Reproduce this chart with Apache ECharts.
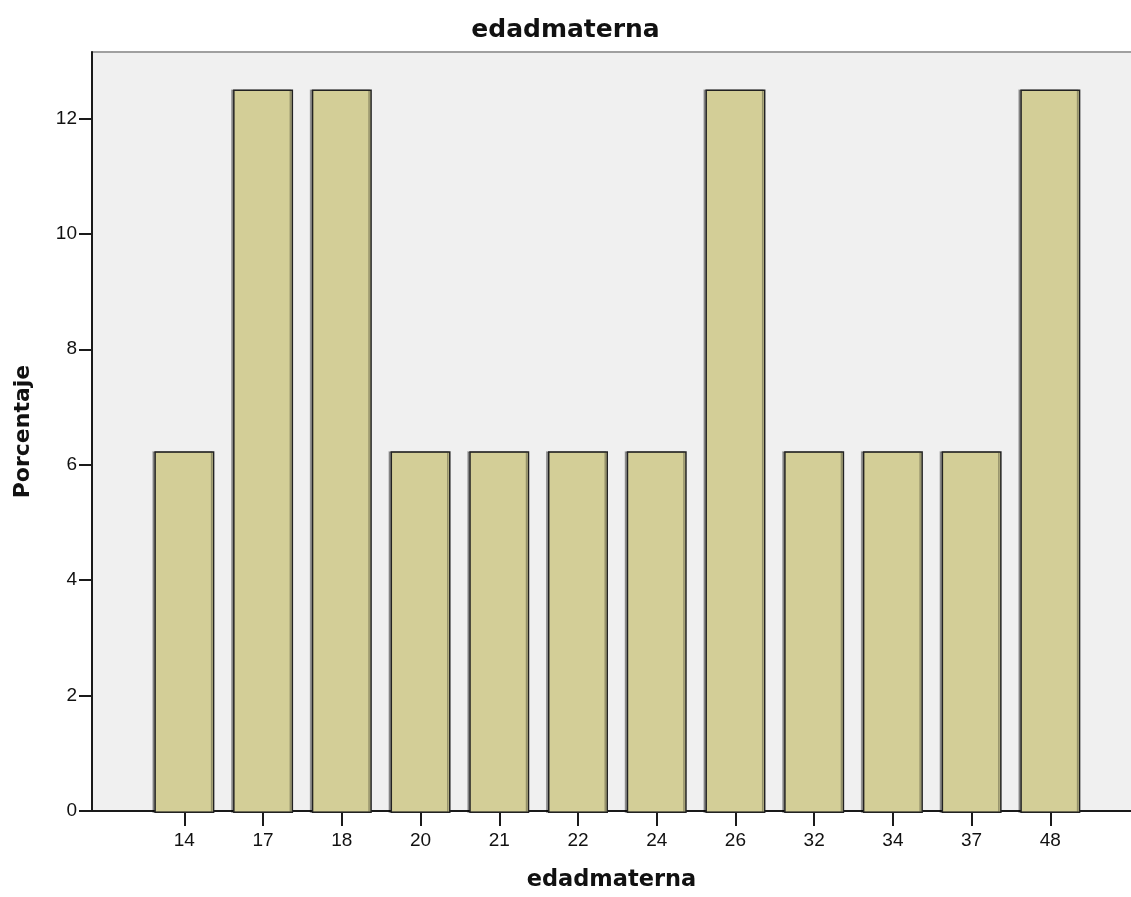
<!DOCTYPE html>
<html>
<head>
<meta charset="utf-8">
<script src="https://cdn.jsdelivr.net/npm/echarts@6/dist/echarts.min.js"></script>
<style>html,body{margin:0;padding:0;background:#fff}#c{width:1131px;height:897px}</style>
</head>
<body>
<div id="c"></div>
<script>
const categories = ['14','17','18','20','21','22','24','26','32','34','37','48'];
const percentages = [6.25, 12.5, 12.5, 6.25, 6.25, 6.25, 6.25, 12.5, 6.25, 6.25, 6.25, 12.5];
const yTicks = [0, 2, 4, 6, 8, 10, 12];
const yMax = 13.15;

const chart = echarts.init(document.getElementById('c'), null, {renderer: 'canvas'});
const axisBlack = '#1a1a1a';
chart.setOption({
  animation: false,
  backgroundColor: '#ffffff',
  title: {
    text: 'edadmaterna', left: 'center', top: 13,
    textStyle: {fontFamily: 'DejaVu Sans', fontWeight: 'bold', fontSize: 25, color: '#111'}
  },
  grid: [
    {left: 92, top: 52, right: 0, bottom: 84, show: true, backgroundColor: '#f0f0f0', borderWidth: 0},
    {left: 145, top: 52, right: 41.3, bottom: 84, show: false}
  ],
  xAxis: [
    {
      type: 'value', gridIndex: 0, min: 0, max: 1,
      axisLine: {show: true, lineStyle: {color: axisBlack, width: 2}},
      axisTick: {show: false}, axisLabel: {show: false}, splitLine: {show: false},
      name: 'edadmaterna', nameLocation: 'middle', nameGap: 58,
      nameTextStyle: {fontFamily: 'DejaVu Sans', fontWeight: 'bold', fontSize: 22.5, color: '#111'}
    },
    {
      type: 'category', gridIndex: 1, data: categories,
      axisLine: {show: false},
      axisTick: {show: true, alignWithLabel: true, length: 13, lineStyle: {color: axisBlack, width: 2}},
      axisLabel: {fontFamily: 'Liberation Sans', fontSize: 19, color: '#111', margin: 18},
      splitLine: {show: false}
    },
    {
      type: 'value', gridIndex: 0, position: 'top', min: 0, max: 1,
      axisLine: {show: true, lineStyle: {color: '#a0a0a0', width: 2}},
      axisTick: {show: false}, axisLabel: {show: false}, splitLine: {show: false}
    }
  ],
  yAxis: [
    {
      type: 'value', gridIndex: 0, min: 0, max: yMax, z: 5,
      axisLine: {show: true, lineStyle: {color: axisBlack, width: 2}},
      axisTick: {show: true, length: 13, customValues: yTicks, lineStyle: {color: axisBlack, width: 2}},
      axisLabel: {customValues: yTicks, fontFamily: 'Liberation Sans', fontSize: 19, color: '#111', margin: 15},
      splitLine: {show: false},
      name: 'Porcentaje', nameLocation: 'middle', nameRotate: 90, nameGap: 58,
      nameTextStyle: {fontFamily: 'DejaVu Sans', fontWeight: 'bold', fontSize: 22, color: '#111'}
    },
    {type: 'value', gridIndex: 1, min: 0, max: yMax, show: false}
  ],
  series: [{
    type: 'bar', xAxisIndex: 1, yAxisIndex: 1, data: percentages, barWidth: 60,
    itemStyle: {color: '#d3ce97', borderColor: '#222', borderWidth: 1.5,
      shadowColor: 'rgba(0,0,0,0.3)', shadowOffsetX: -2, shadowBlur: 0}
  }]
});
</script>
</body>
</html>
